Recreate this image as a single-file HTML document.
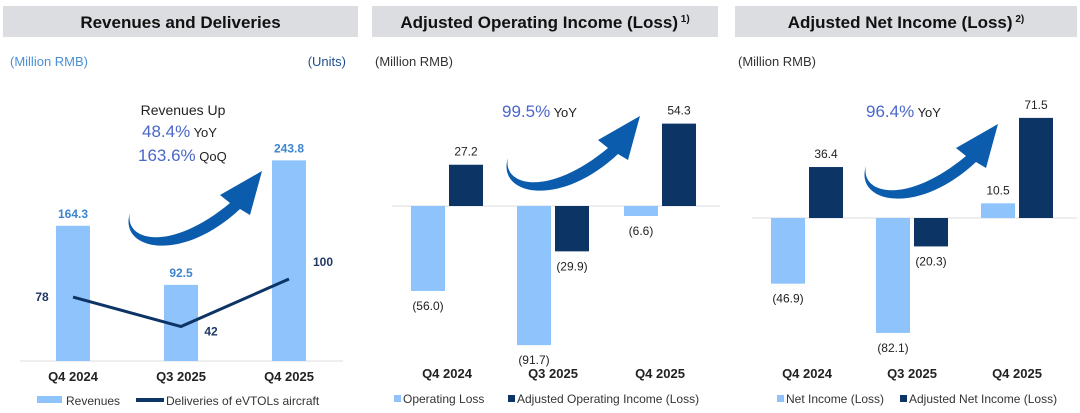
<!DOCTYPE html>
<html><head><meta charset="utf-8">
<style>
body{margin:0;width:1080px;height:413px;background:#fff;overflow:hidden;font-family:"Liberation Sans",sans-serif}
svg{position:absolute;left:0;top:0}
</style></head>
<body>
<svg id="c" width="1080" height="413" xmlns="http://www.w3.org/2000/svg" font-family="Liberation Sans, sans-serif">
<defs>
<g id="arrow"><path d="M0,0 C-6,28 40,40 100,-10 L90,-18 L132,-42 L120,2 L110,-4 C50,52 -12,36 0,0 Z" fill="#0b5cad"/></g>
</defs>
</svg>
<script>
const cats=['Q4 2024','Q3 2025','Q4 2025'];
const revenues=[164.3,92.5,243.8];
const deliveries=[78,42,100];
const opLoss=[-56.0,-91.7,-6.6];
const adjOp=[27.2,-29.9,54.3];
const netInc=[-46.9,-82.1,10.5];
const adjNet=[36.4,-20.3,71.5];

const svg=document.getElementById('c');
const NS='http://www.w3.org/2000/svg';
function el(tag,attrs,parent){const e=document.createElementNS(NS,tag);for(const k in attrs)e.setAttribute(k,attrs[k]);(parent||svg).appendChild(e);return e;}
function txt(s,x,y,attrs,parent){const t=el('text',Object.assign({x:x,y:y},attrs),parent);t.textContent=s;return t;}
function fmt(v){return v<0?'('+Math.abs(v).toFixed(1)+')':v.toFixed(1);}

function header(x,w,title,sup){
  const g=el('g',{});
  
  
  el('rect',{x:x,y:6,width:w,height:31,fill:'#dcdde1'},g);
  const t=txt(title,x+w/2,28,{'text-anchor':'middle','font-size':17,'font-weight':'bold',fill:'#111'},g);
  if(sup){const ts=el('tspan',{dy:-6,'font-size':10},t);ts.textContent=' '+sup;}
}
const LIGHT='#8ec4fb', DARK='#0c3566';

// Panel 1
header(3,355,'Revenues and Deliveries');
txt('(Million RMB)',10,66,{'font-size':13,fill:'#4a8fd6'});
txt('(Units)',346,66,{'font-size':13,fill:'#1f4e8c','text-anchor':'end'});
const b1=361, s1=0.823, x1=[73,181,289];
el('line',{x1:20,x2:343,y1:b1,y2:b1,stroke:'#ddd','stroke-width':1});
revenues.forEach((v,i)=>{
  const r=el('rect',{x:x1[i]-17,y:b1-v*s1,width:34,height:v*s1,fill:LIGHT});
  
  
  txt(v.toFixed(1),x1[i],b1-v*s1-8,{'text-anchor':'middle','font-size':12,'font-weight':'bold',fill:'#3d86cf'});
  txt(cats[i],x1[i],381,{'text-anchor':'middle','font-size':13,'font-weight':'bold',fill:'#222'});
});
const ls=0.82;
const pts=deliveries.map((v,i)=>[x1[i],b1-v*ls]);
const pl=el('polyline',{points:pts.map(p=>p.join(',')).join(' '),fill:'none',stroke:DARK,'stroke-width':3});


const loff=[[-31,4],[30,9],[34,-13]];
deliveries.forEach((v,i)=>{txt(String(v),pts[i][0]+loff[i][0],pts[i][1]+loff[i][1],{'text-anchor':'middle','font-size':12,'font-weight':'bold',fill:'#1f3864'});});
txt('Revenues Up',183,115,{'text-anchor':'middle','font-size':14,fill:'#222'});
const t1=txt('48.4%',142,137,{'font-size':17,fill:'#4a67c9'});const y1s=el('tspan',{'font-size':13,fill:'#222'},t1);y1s.textContent=' YoY';
const t2=txt('163.6%',138,161,{'font-size':17,fill:'#4a67c9'});const y2s=el('tspan',{'font-size':13,fill:'#222'},t2);y2s.textContent=' QoQ';
el('use',{href:'#arrow',transform:'translate(130,213) scale(1)'});
el('rect',{x:37,y:396,width:25,height:7,fill:LIGHT});
txt('Revenues',66,405,{'font-size':12,fill:'#333'});
el('rect',{x:136,y:398,width:28,height:4,fill:DARK});
txt('Deliveries of  eVTOLs aircraft',166,405,{'font-size':12,fill:'#333'});

function barPanel(px,pw,title,sup,base,scale,ser1,ser2,xc,leg1,leg2,pct,pctx,arrowT,legx){
  header(px,pw,title,sup);
  txt('(Million RMB)',px+3,66,{'font-size':13,fill:'#333'});
  el('line',{x1:xc[0]-55,x2:xc[2]+60,y1:base,y2:base,stroke:'#ddd','stroke-width':1});
  [ser1,ser2].forEach((ser,si)=>{
    ser.forEach((v,i)=>{
      const cx=xc[i]+(si?19:-19);
      const h=Math.abs(v)*scale, y=v>=0?base-h:base;
      const r=el('rect',{x:cx-17,y:y,width:34,height:h,fill:si?DARK:LIGHT});
      
      
      const ty=v>=0?y-9:y+h+19;
      txt(fmt(v),cx,ty,{'text-anchor':'middle','font-size':12,fill:'#222'});
    });
    xc.forEach((x,i)=>{});
  });
  xc.forEach((x,i)=>txt(cats[i],x,378,{'text-anchor':'middle','font-size':13,'font-weight':'bold',fill:'#222'}));
  const t=txt(pct,pctx,117,{'font-size':17,fill:'#4a67c9'});const ts=el('tspan',{'font-size':13,fill:'#222'},t);ts.textContent=' YoY';
  el('use',{href:'#arrow',transform:arrowT});
  el('rect',{x:legx[0],y:395,width:7,height:7,fill:LIGHT});
  txt(leg1,legx[0]+9,403,{'font-size':12,fill:'#333'});
  el('rect',{x:legx[1],y:395,width:7,height:7,fill:DARK});
  txt(leg2,legx[1]+9,403,{'font-size':12,fill:'#333'});
}
barPanel(372,346,'Adjusted Operating Income (Loss)','1)',206,1.517,opLoss,adjOp,[447,553,660],'Operating Loss','Adjusted Operating Income (Loss)','99.5%',502,'translate(508,158)',[394,508]);
barPanel(735,342,'Adjusted Net Income (Loss)','2)',218,1.40,netInc,adjNet,[807,912,1017],'Net Income (Loss)','Adjusted Net Income (Loss)','96.4%',866,'translate(866,166)',[777,900]);
</script>
</body></html>
